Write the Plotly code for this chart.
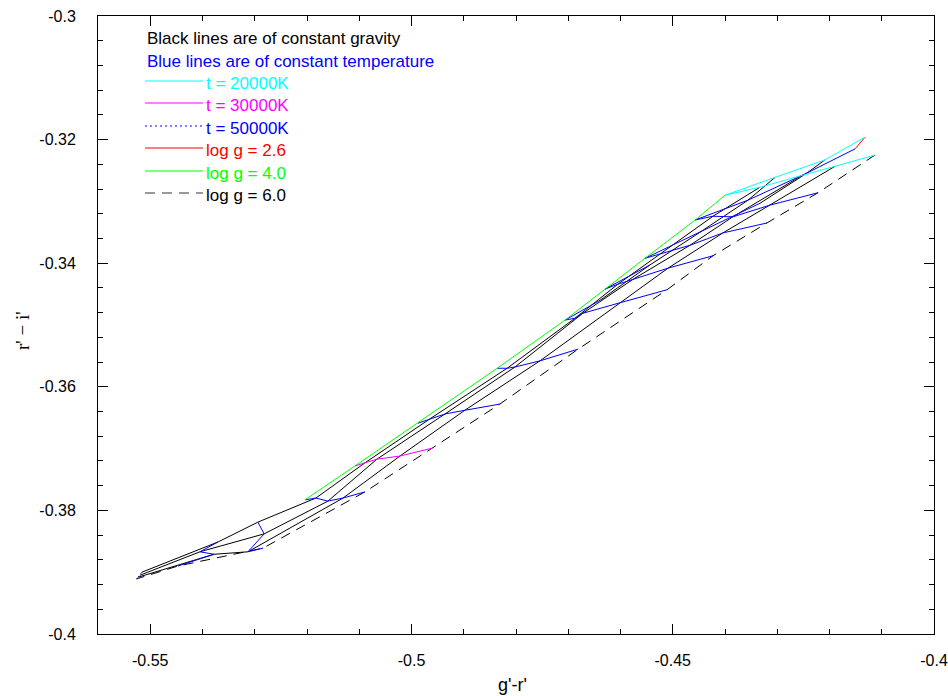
import plotly.graph_objects as go

# ---------------- data ----------------
temps = [20000, 21000, 22000, 23000, 24000, 26000, 28000, 30000, 35000, 40000, 45000, 50000]
loggs = [2.6, 3.0, 3.5, 4.0, 4.5, 5.0, 5.5, 6.0]
N = None

# g'-r' and r'-i' of each grid node, one list per gravity (ordered by temps)
gr_26 = [-0.4132, -0.4151, N, N, N, N, N, N, N, N, N, N]
ri_26 = [-0.3196, -0.3215, N, N, N, N, N, N, N, N, N, N]

gr_30 = [-0.4209, -0.4243, -0.4333, N, N, N, N, N, N, N, N, N]
ri_30 = [-0.3233, -0.3254, -0.3303, N, N, N, N, N, N, N, N, N]

gr_35 = [-0.4304, -0.4356, -0.4448, -0.4544, -0.4639, N, N, N, N, N, N, N]
ri_35 = [-0.3261, -0.3298, -0.3350, -0.3403, -0.3460, N, N, N, N, N, N, N]

gr_40 = [-0.4400, -0.4457, -0.4553, -0.4630, -0.4706, -0.4836, -0.4988, -0.5108, -0.5204, N, N, N]
ri_40 = [-0.3290, -0.3330, -0.3392, -0.3442, -0.3492, -0.3570, -0.3659, -0.3728, -0.3783, N, N, N]

gr_45 = [-0.4333, -0.4423, -0.4524, -0.4605, -0.4687, -0.4817, -0.4965, -0.5089, -0.5183, -0.5294, -0.5370, -0.5516]
ri_45 = [-0.3277, -0.3324, -0.3385, -0.3434, -0.3489, -0.3570, -0.3652, -0.3723, -0.3780, -0.3819, -0.3851, -0.3900]

gr_50 = [-0.4251, -0.4385, -0.4467, -0.4576, -0.4672, -0.4802, -0.4936, -0.5066, -0.5160, -0.5282, -0.5405, -0.5520]
ri_50 = [-0.3257, -0.3325, -0.3371, -0.3426, -0.3481, -0.3568, -0.3644, -0.3717, -0.3785, -0.3838, -0.3867, -0.3905]

gr_55 = [-0.4189, -0.4314, -0.4404, -0.4509, -0.4601, -0.4754, -0.4898, -0.5022, -0.5131, -0.5313, -0.5378, -0.5523]
ri_55 = [-0.3243, -0.3306, -0.3351, -0.3408, -0.3464, -0.3558, -0.3638, -0.3712, -0.3780, -0.3867, -0.3871, -0.3908]

gr_60 = [-0.4113, -0.4222, -0.4320, -0.4423, -0.4511, -0.4681, -0.4831, -0.4959, -0.5089, -0.5284, -0.5447, -0.5527]
ri_60 = [-0.3225, -0.3286, -0.3335, -0.3388, -0.3443, -0.3539, -0.3628, -0.3699, -0.3770, -0.3861, -0.3890, -0.3911]

grid_gr = [gr_26, gr_30, gr_35, gr_40, gr_45, gr_50, gr_55, gr_60]
grid_ri = [ri_26, ri_30, ri_35, ri_40, ri_45, ri_50, ri_55, ri_60]

x_ticks = [-0.55, -0.5, -0.45, -0.4]
x_ticktext = ["-0.55", "-0.5", "-0.45", "-0.4"]
y_ticks = [-0.4, -0.38, -0.36, -0.34, -0.32, -0.3]
y_ticktext = ["-0.4", "-0.38", "-0.36", "-0.34", "-0.32", "-0.3"]

# ---------------- styles ----------------
BLUE = "#0000ff"
CYAN = "#00ffff"
MAGENTA = "#ff00ff"
RED = "#ff0000"
GREEN = "#00ff00"
FONT = "Liberation Sans, Arial, Helvetica, sans-serif"
SERIF = "Liberation Serif, Times New Roman, serif"

grav_style = {2.6: (RED, "solid"), 4.0: (GREEN, "solid"), 6.0: ("black", "10px,7px")}
temp_style = {20000: (CYAN, "solid"), 30000: (MAGENTA, "solid"), 50000: (BLUE, "2px,3px")}

fig = go.Figure()

def add_line(xs, ys, color, dash):
    fig.add_trace(go.Scatter(x=xs, y=ys, mode="lines",
                             line=dict(color=color, width=1, dash=dash),
                             hoverinfo="skip", showlegend=False))

# black gravity lines first
for g, xs, ys in zip(loggs, grid_gr, grid_ri):
    if g not in grav_style or g == 6.0:
        c, d = grav_style.get(g, ("black", "solid"))
        add_line(xs, ys, c, d)

# constant temperature lines
special_t = []
for j, t in enumerate(temps):
    xs = [grid_gr[i][j] for i in range(len(loggs)) if grid_gr[i][j] is not None]
    ys = [grid_ri[i][j] for i in range(len(loggs)) if grid_ri[i][j] is not None]
    if t in temp_style:
        special_t.append((xs, ys, temp_style[t]))
    else:
        add_line(xs, ys, BLUE, "solid")

# coloured gravity lines
for g, xs, ys in zip(loggs, grid_gr, grid_ri):
    if g in (4.0, 2.6):
        c, d = grav_style[g]
        add_line(xs, ys, c, d)

for xs, ys, (c, d) in special_t:
    add_line(xs, ys, c, d)

# ---------------- legend drawn as text + line samples ----------------
L, R, T, B = 98, 934, 16, 634
def px(xp):
    return (xp - L) / (R - L)
def py(yp):
    return (B - yp) / (B - T)

annotations = []
shapes = []
annotations.append(dict(text="Black lines are of constant gravity", x=px(145), y=py(39),
                        xref="paper", yref="paper", xanchor="left", yanchor="middle",
                        showarrow=False, font=dict(family=FONT, size=17, color="black")))
annotations.append(dict(text="Blue lines are of constant temperature", x=px(145), y=py(61.5),
                        xref="paper", yref="paper", xanchor="left", yanchor="middle",
                        showarrow=False, font=dict(family=FONT, size=17, color=BLUE)))

legend_rows = [
    ("t = 20000K", CYAN, CYAN, "solid", 81),
    ("t = 30000K", MAGENTA, MAGENTA, "solid", 103),
    ("t = 50000K", BLUE, BLUE, "2px,3px", 126),
    ("log g = 2.6", RED, RED, "solid", 148),
    ("log g = 4.0", GREEN, GREEN, "solid", 171),
    ("log g = 6.0", "black", "#333333", "10px,7px", 193),
]
for label, tcol, lcol, dash, yl in legend_rows:
    shapes.append(dict(type="line", xref="paper", yref="paper",
                       x0=px(145), x1=px(203), y0=py(yl), y1=py(yl),
                       line=dict(color=lcol, width=1, dash=dash)))
    annotations.append(dict(text=label, x=px(204), y=py(yl + 2.5),
                            xref="paper", yref="paper", xanchor="left", yanchor="middle",
                            showarrow=False, font=dict(family=FONT, size=17, color=tcol)))

# axis titles
annotations.append(dict(text="g'-r'", x=px(512), y=py(685), xref="paper", yref="paper",
                        xanchor="center", yanchor="middle", showarrow=False,
                        font=dict(family=FONT, size=18, color="black")))
annotations.append(dict(text="r' − i'", x=px(22), y=py(331), xref="paper", yref="paper",
                        xanchor="center", yanchor="middle", showarrow=False, textangle=-90,
                        font=dict(family=SERIF, size=19, color="black")))

x_minor = [-0.56 + 0.01 * k for k in range(17)]
y_minor = [-0.4 + 0.004 * k for k in range(26)]

axis_common = dict(showline=True, linecolor="black", linewidth=1, mirror="allticks",
                   ticks="inside", ticklen=10, tickwidth=1, tickcolor="black",
                   showgrid=False, zeroline=False, automargin=False,
                   tickfont=dict(family=FONT, size=16, color="black"))

fig.update_layout(
    width=948, height=696,
    margin=dict(l=L, r=948 - R, t=T, b=696 - B),
    plot_bgcolor="white", paper_bgcolor="white",
    showlegend=False,
    xaxis=dict(range=[-0.56, -0.40], tickmode="array", tickvals=x_ticks, ticktext=x_ticktext,
               ticklabelstandoff=12,
               minor=dict(tickmode="array", tickvals=x_minor, ticks="inside", ticklen=5,
                          tickwidth=1, tickcolor="black", showgrid=False),
               **axis_common),
    yaxis=dict(range=[-0.40, -0.30], tickmode="array", tickvals=y_ticks, ticktext=y_ticktext,
               ticklabelstandoff=18,
               minor=dict(tickmode="array", tickvals=y_minor, ticks="inside", ticklen=5,
                          tickwidth=1, tickcolor="black", showgrid=False),
               **axis_common),
    annotations=annotations,
    shapes=shapes,
)

fig.write_html("out.html")
